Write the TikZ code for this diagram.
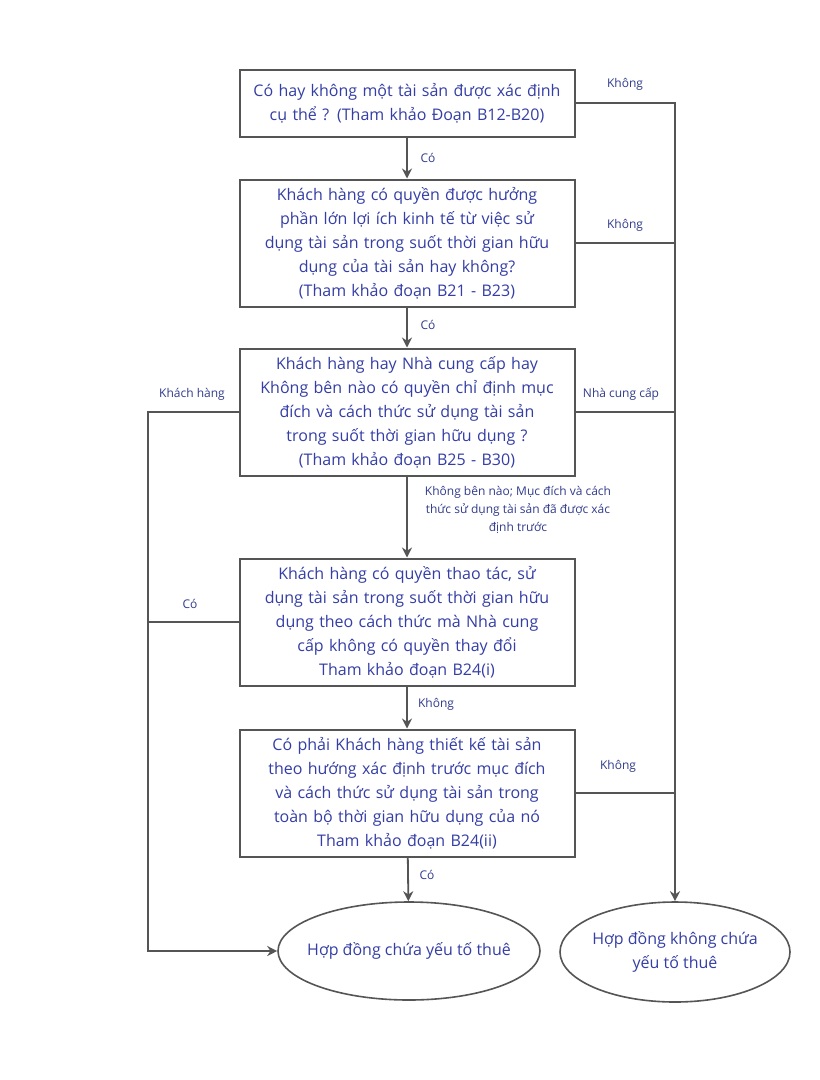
\documentclass[tikz,border=0pt]{standalone}
\usepackage{fontspec}
\setmainfont{Open Sans}
\usetikzlibrary{arrows.meta,shapes.geometric}
\definecolor{txtblue}{RGB}{52,62,165}
\definecolor{lblblue}{RGB}{50,60,140}
\definecolor{linegray}{RGB}{85,85,85}
\tikzset{
  qbox/.style={draw=linegray, line width=2pt, minimum width=335pt, text width=330pt,
    align=center, text=txtblue, inner sep=0pt, font=\fontsize{16}{24}\selectfont},
  endnode/.style={ellipse, draw=linegray, line width=1.6pt, align=center, text=txtblue,
    inner xsep=-20pt, inner ysep=0pt, font=\fontsize{16}{24}\selectfont},
  lbl/.style={text=lblblue, align=center, inner sep=0pt, font=\fontsize{12}{18}\selectfont},
  link/.style={draw=linegray, line width=1.8pt},
  arrow/.style={link, -{Stealth[length=10pt,width=10pt]}}
}

\begin{document}
\begin{tikzpicture}[x=1pt, y=-1pt]
  \useasboundingbox[fill=white] (0,0) rectangle (820,1080);
  % questions
  \node[qbox, minimum height=67pt] (q1) at (407, 103)
    {Có hay không một tài sản được xác định\\cụ thể ? (Tham khảo Đoạn B12-B20)};
  \node[qbox, minimum height=127pt] (q2) at (407, 243)
    {Khách hàng có quyền được hưởng\\phần lớn lợi ích kinh tế từ việc sử\\dụng tài sản trong suốt thời gian hữu\\dụng của tài sản hay không?\\(Tham khảo đoạn B21 - B23)};
  \node[qbox, minimum height=127pt] (q3) at (407, 412)
    {Khách hàng hay Nhà cung cấp hay\\Không bên nào có quyền chỉ định mục\\đích và cách thức sử dụng tài sản\\trong suốt thời gian hữu dụng ?\\(Tham khảo đoạn B25 - B30)};
  \node[qbox, minimum height=127pt] (q4) at (407, 622)
    {Khách hàng có quyền thao tác, sử\\dụng tài sản trong suốt thời gian hữu\\dụng theo cách thức mà Nhà cung\\cấp không có quyền thay đổi\\Tham khảo đoạn B24(i)};
  \node[qbox, minimum height=127pt] (q5) at (407, 793)
    {Có phải Khách hàng thiết kế tài sản\\theo hướng xác định trước mục đích\\và cách thức sử dụng tài sản trong\\toàn bộ thời gian hữu dụng của nó\\Tham khảo đoạn B24(ii)};
  % results
  \node[endnode, minimum width=262pt, minimum height=98pt] (lease) at (409, 951)
    {Hợp đồng chứa yếu tố thuê};
  \node[endnode, minimum width=230pt, minimum height=100pt] (nolease) at (675, 952)
    {Hợp đồng không chứa\\yếu tố thuê};
  \coordinate (lx) at (148, 0);

  % main column
  \draw[arrow] (q1) -- (q2);
  \draw[arrow] (q2) -- (q3);
  \draw[arrow] (q3) -- (q4);
  \draw[arrow] (q4) -- (q5);
  \draw[arrow] (q5) -- (lease);
  % right side
  \draw[arrow] (q1.east) -| (nolease.north);
  \draw[link] (q2.east) -- (q2.east -| nolease.north);
  \draw[link] (q3.east) -- (q3.east -| nolease.north);
  \draw[link] (q5.east) -- (q5.east -| nolease.north);
  % left side
  \draw[arrow] (q3.west) -- (q3.west -| lx) |- (lease.west);
  \draw[link] (q4.west) -- (q4.west -| lx);

  % labels
  \node[lbl] (c1) at (428, 158) {Có};
  \node[lbl] (c2) at (428, 325) {Có};
  \node[lbl] (k4) at (436, 704) {Không};
  \node[lbl] (c5) at (427, 875) {Có};
  \node[lbl] (k1) at (625, 84) {Không};
  \node[lbl] (k2) at (625, 225) {Không};
  \node[lbl] (ncc) at (621, 394) {Nhà cung cấp};
  \node[lbl] (k5) at (618, 766) {Không};
  \node[lbl] (kh) at (192, 394) {Khách hàng};
  \node[lbl] (c4) at (190, 604) {Có};
  \node[lbl] (none) at (518, 510)
    {Không bên nào; Mục đích và cách\\thức sử dụng tài sản đã được xác\\định trước};
\end{tikzpicture}
\end{document}
